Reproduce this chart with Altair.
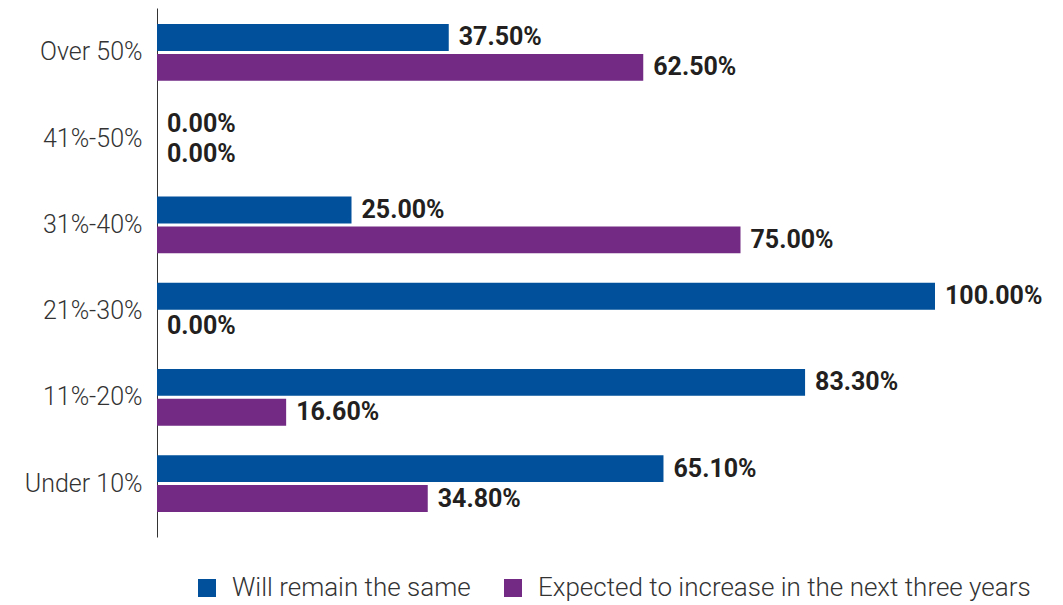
import altair as alt
import pandas as pd

categories = ["Over 50%", "41%-50%", "31%-40%", "21%-30%", "11%-20%", "Under 10%"]
series = ["Will remain the same", "Expected to increase in the next three years"]
remain = [37.5, 0.0, 25.0, 100.0, 83.3, 65.1]
increase = [62.5, 0.0, 75.0, 0.0, 16.6, 34.8]
colors = ["#00509B", "#722A84"]

rows = []
for c, r, i in zip(categories, remain, increase):
    rows.append({"cat": c, "series": series[0], "value": r, "label": f"{r:.2f}%"})
    rows.append({"cat": c, "series": series[1], "value": i, "label": f"{i:.2f}%"})
df = pd.DataFrame(rows)

FONT = "Roboto"

y = alt.Y(
    "cat:N",
    sort=categories,
    title=None,
    scale=alt.Scale(paddingInner=0.34, paddingOuter=0.237, align=0.39),
    axis=alt.Axis(
        ticks=False,
        domainColor="#333333",
        domainWidth=1,
        labelFont=FONT,
        labelFontSize=25,
        labelFontWeight=300,
        labelColor="#333333",
        labelPadding=15,
        minExtent=149,
        maxExtent=149,
    ),
)
yoff = alt.YOffset("series:N", sort=series, scale=alt.Scale(paddingInner=0.1, paddingOuter=0))
x = alt.X("value:Q", scale=alt.Scale(domain=[0, 100]), axis=None)

bars = alt.Chart(df).mark_bar().encode(
    x=x,
    y=y,
    yOffset=yoff,
    color=alt.Color(
        "series:N",
        sort=series,
        scale=alt.Scale(domain=series, range=colors),
        legend=alt.Legend(
            title=None,
            orient="none",
            legendX=37,
            legendY=567,
            direction="horizontal",
            symbolType="square",
            symbolSize=324,
            symbolStrokeWidth=0,
            symbolOpacity=1,
            labelFont=FONT,
            labelFontSize=26,
            labelFontWeight=300,
            labelColor="#333333",
            labelOffset=12,
            columnPadding=29,
            labelLimit=700,
        ),
    ),
)

text = alt.Chart(df).mark_text(
    align="left", baseline="middle", dx=10, font=FONT, fontSize=25,
    fontWeight="bold", color="#231F20"
).encode(x=x, y=y, yOffset=yoff, text="label:N")

chart = (bars + text).properties(
    width=778, height=529,
    padding={"left": 0, "top": 0, "right": 5, "bottom": 5},
).configure_view(stroke=None)

chart.save("out.html", embed_options={"renderer": "svg", "actions": False})
